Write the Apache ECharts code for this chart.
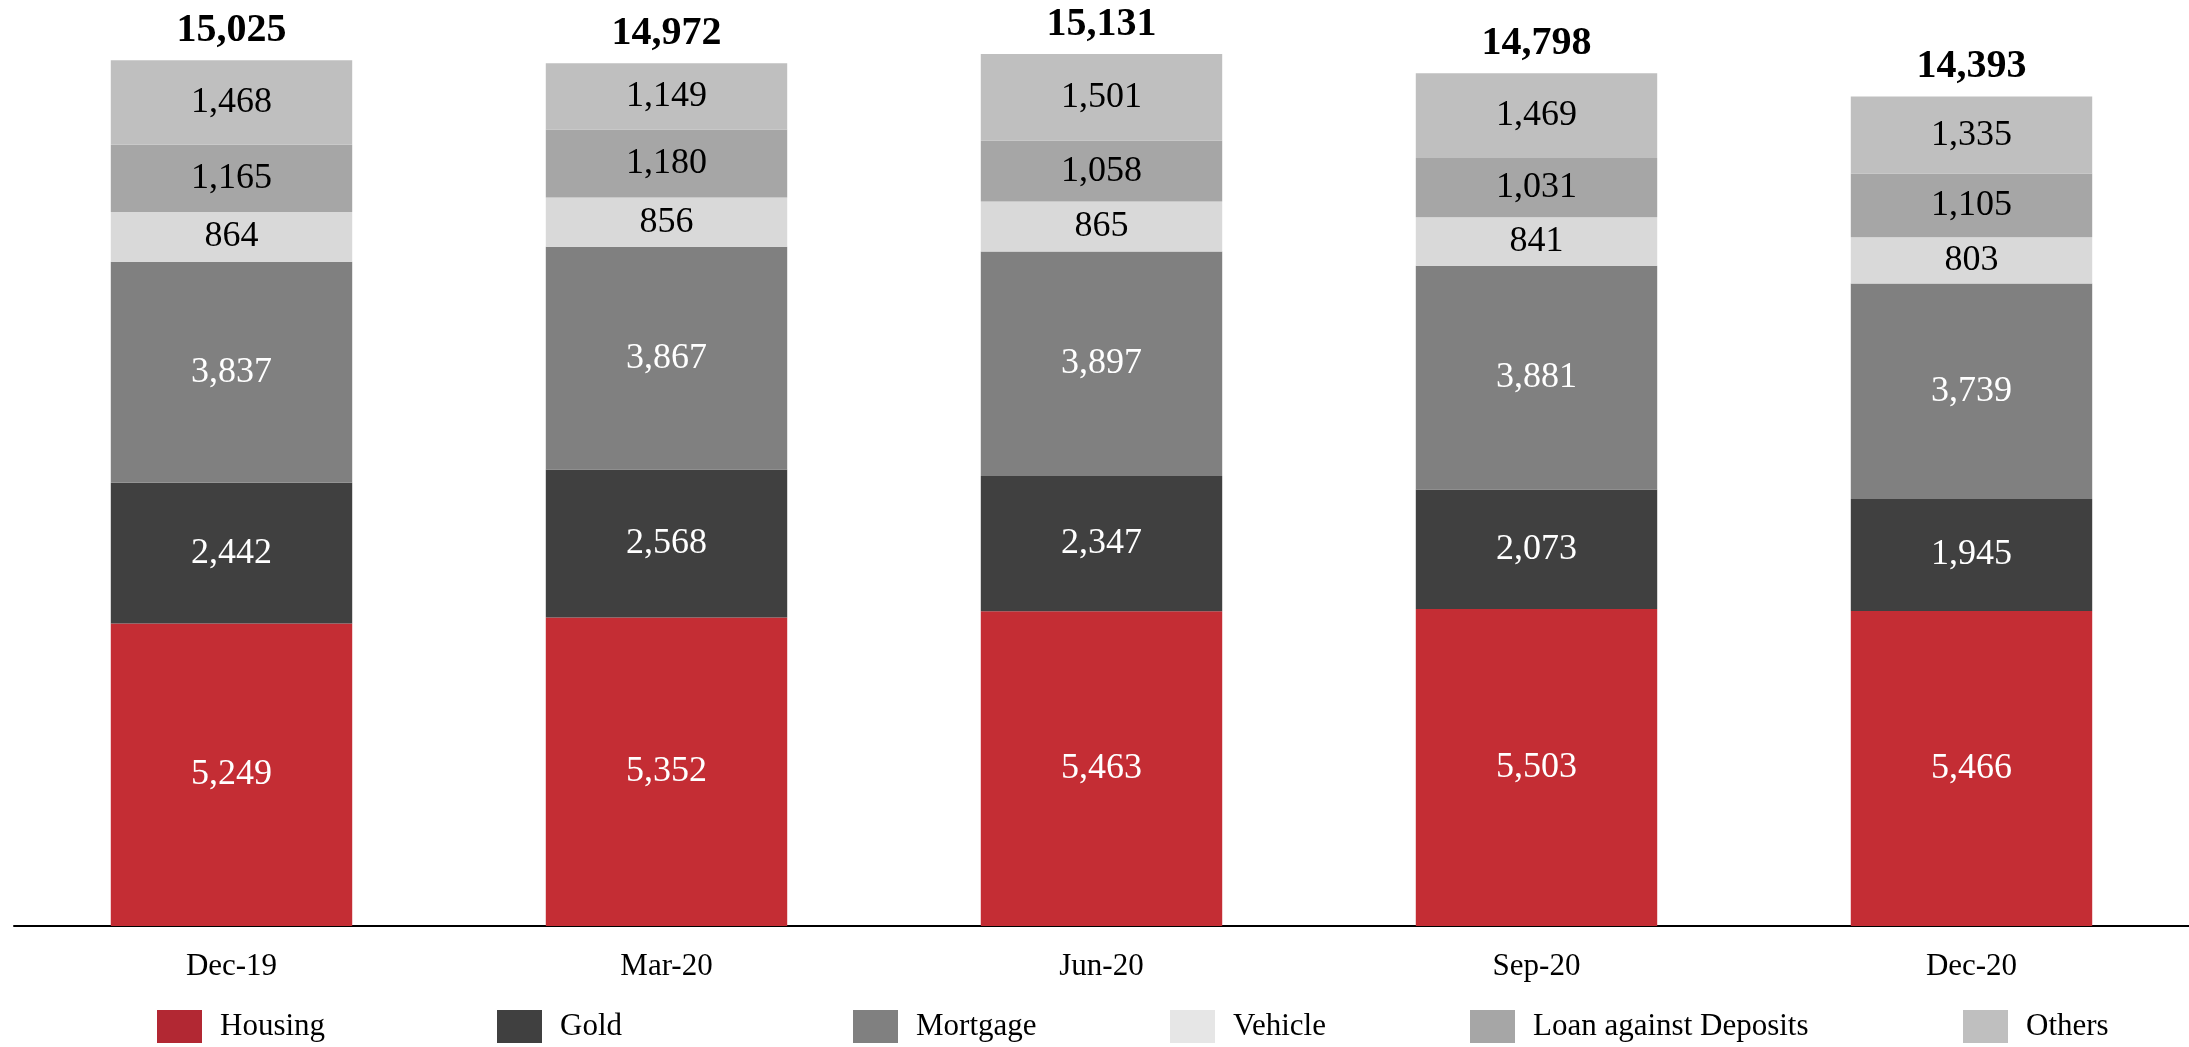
<!DOCTYPE html>
<html style="height: 100%">

<head>
    <meta charset="utf-8">
</head>

<body style="height: 100%; margin: 0; background: #fff">

    <div id="container" style="height: 100%"></div>

    <script type="text/javascript" src="https://cdn.jsdelivr.net/npm/echarts@6/dist/echarts.min.js"></script>

    <script type="text/javascript">
        var quarters = ['Dec-19', 'Mar-20', 'Jun-20', 'Sep-20', 'Dec-20'];
        var housing = [5249, 5352, 5463, 5503, 5466];
        var gold = [2442, 2568, 2347, 2073, 1945];
        var mortgage = [3837, 3867, 3897, 3881, 3739];
        var vehicle = [864, 856, 865, 841, 803];
        var loanDeposits = [1165, 1180, 1058, 1031, 1105];
        var others = [1468, 1149, 1501, 1469, 1335];
        var totals = [15025, 14972, 15131, 14798, 14393];

        var font = '"Liberation Serif", "Times New Roman", serif';

        var dom = document.getElementById("container");
        var myChart = echarts.init(dom);

        function fmt(v) {
            return echarts.format.addCommas(v);
        }

        // one stacked segment
        function part(name, data, color, labelColor) {
            return {
                name: name,
                type: 'bar',
                stack: 'total',
                data: data,
                barWidth: '55.5%',
                itemStyle: { color: color },
                label: {
                    show: true,
                    position: 'inside',
                    color: labelColor,
                    fontFamily: font,
                    fontSize: 36,
                    formatter: function(p) { return fmt(p.value); }
                },
                emphasis: { disabled: true }
            };
        }

        // legend, one block per item so spacing can follow the picture
        var legendItems = [
            ['Housing', '#b22833', 157],
            ['Gold', '#404040', 497],
            ['Mortgage', '#808080', 853],
            ['Vehicle', '#e6e6e6', 1170],
            ['Loan against Deposits', '#a6a6a6', 1470],
            ['Others', '#bfbfbf', 1963]
        ];
        var legends = legendItems.map(function(it) {
            return {
                left: it[2],
                top: 1010,
                padding: 0,
                itemWidth: 45,
                itemHeight: 33,
                selectedMode: false,
                icon: 'rect',
                textStyle: {
                    fontFamily: font,
                    fontSize: 31,
                    color: '#000',
                    padding: [0, 0, 0, 13]
                },
                data: [{ name: it[0], itemStyle: { color: it[1] } }]
            };
        });

        var option = {
            animation: false,
            legend: legends,
            grid: {
                left: 14,
                right: -2,
                top: 4,
                bottom: 121
            },
            xAxis: {
                type: 'category',
                data: quarters,
                axisLine: { lineStyle: { color: '#000', width: 2 } },
                axisTick: { show: false },
                axisLabel: {
                    margin: 25,
                    color: '#000',
                    fontFamily: font,
                    fontSize: 31
                }
            },
            yAxis: {
                type: 'value',
                min: 0,
                max: 16000,
                show: false,
                splitLine: { show: false }
            },
            series: [
                part('Housing', housing, '#c42d34', '#fff'),
                part('Gold', gold, '#404040', '#fff'),
                part('Mortgage', mortgage, '#808080', '#fff'),
                part('Vehicle', vehicle, '#d9d9d9', '#000'),
                part('Loan against Deposits', loanDeposits, '#a6a6a6', '#000'),
                part('Others', others, '#bfbfbf', '#000'),
                {
                    // totals above each stack
                    name: 'Total',
                    type: 'scatter',
                    data: totals,
                    symbol: 'rect',
                    symbolSize: 1,
                    clip: false,
                    itemStyle: { color: 'rgba(0,0,0,0)', opacity: 1 },
                    silent: true,
                    label: {
                        show: true,
                        position: 'top',
                        distance: 9,
                        color: '#000',
                        fontFamily: font,
                        fontSize: 40,
                        fontWeight: 'bold',
                        formatter: function(p) { return fmt(p.value); }
                    }
                }
            ]
        };

        myChart.setOption(option);
    </script>
</body>

</html>
